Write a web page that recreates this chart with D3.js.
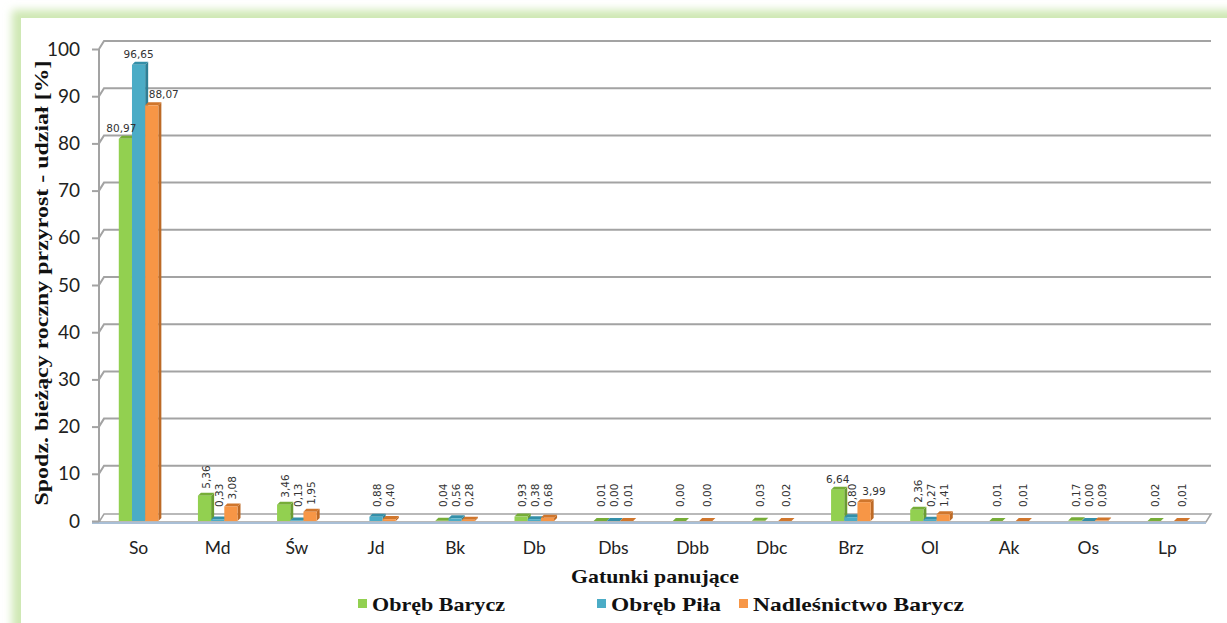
<!DOCTYPE html>
<html><head><meta charset="utf-8">
<script src="https://cdn.jsdelivr.net/npm/d3@7"></script>
<style>
html,body{margin:0;padding:0;background:#fff;}
svg{display:block;}
</style></head>
<body>
<svg id="chart" width="1227" height="623"></svg>
<script>
const categories = ["So","Md","Św","Jd","Bk","Db","Dbs","Dbb","Dbc","Brz","Ol","Ak","Os","Lp"];
const seriesNames = ["Obręb Barycz","Obręb Piła","Nadleśnictwo Barycz"];
const obrebBarycz = [80.97,5.36,3.46,null,0.04,0.93,0.01,0.00,0.03,6.64,2.36,0.01,0.17,0.02];
const obrebPila = [96.65,0.33,0.13,0.88,0.56,0.38,0.00,null,null,0.80,0.27,null,0.00,null];
const nadlesnictwo = [88.07,3.08,1.95,0.40,0.28,0.68,0.01,0.00,0.02,3.99,1.41,0.01,0.09,0.01];
const yTicks = [0,10,20,30,40,50,60,70,80,90,100];
const yTitle = "Spodz. bieżący roczny przyrost - udział [%]";
const xTitle = "Gatunki panujące";
// labels drawn horizontally (category|series index); others are rotated
const horizontalLabels = ["So|0","So|1","So|2","Brz|0","Brz|2"];

const seriesValues = [obrebBarycz, obrebPila, nadlesnictwo];
const colors = [
  {front:"#92d050", top:"#76ad38", side:"#6a9c32"},
  {front:"#4bacc6", top:"#348fa8", side:"#2f7f95"},
  {front:"#f79646", top:"#d0762c", side:"#bd6a26"}
];

const svg = d3.select("#chart");
const defs = svg.append("defs");
const blur = defs.append("filter").attr("id","glow").attr("x","-10%").attr("y","-10%").attr("width","120%").attr("height","120%");
blur.append("feGaussianBlur").attr("stdDeviation",4);

// chart area with green glow
svg.append("rect").attr("x",12).attr("y",10).attr("width",1260).attr("height",700)
  .attr("fill","#cfe8b4").attr("filter","url(#glow)");
svg.append("rect").attr("x",21).attr("y",18).attr("width",1260).attr("height",700).attr("fill","#fff");

const font = "Lato, 'Open Sans', sans-serif";
const serif = "'Liberation Serif', 'DejaVu Serif', serif";

const x0 = d3.scaleBand().domain(categories).range([99,1207]);
const xs = d3.scaleBand().domain(d3.range(3)).range([x0.bandwidth()*0.25, x0.bandwidth()*0.75]);
const y = d3.scaleLinear().domain([0,100]).range([521,49]);
const DX = 5, DY = -8; // wall depth offset
const axisX = 99;
const gridColor = "#a3a3a3";

const g = svg.append("g");

// floor
const y0 = y(0) + 1;
g.append("path")
  .attr("d", `M${axisX},${y0} L${1206},${y0} L${1206+DX},${y0+DY} L${axisX+DX},${y0+DY} Z`)
  .attr("fill","#fff").attr("stroke",gridColor).attr("stroke-width",1.5);

// gridlines on back wall
g.selectAll(".grid").data(yTicks.filter(d=>d>0)).join("path")
  .attr("d", d => `M${axisX},${y(d)} L${axisX+DX},${y(d)+DY} L${1211},${y(d)+DY}`)
  .attr("fill","none").attr("stroke",gridColor).attr("stroke-width",2);

// vertical axis line
g.append("line").attr("x1",axisX).attr("x2",axisX).attr("y1",y(100)).attr("y2",y0)
  .attr("stroke",gridColor).attr("stroke-width",2);

// front floor edge
g.append("line").attr("x1",92).attr("x2",1206).attr("y1",y0+1).attr("y2",y0+1)
  .attr("stroke","#a9bfd6").attr("stroke-width",2);

// y axis ticks & labels
const yAxis = d3.axisLeft(y).tickValues(yTicks).tickSize(7).tickPadding(12).tickFormat(d3.format("d"));
const ya = svg.append("g").attr("transform",`translate(${axisX},0)`).call(yAxis);
ya.select(".domain").remove();
ya.selectAll(".tick line").attr("stroke",gridColor).attr("stroke-width",2);
ya.selectAll(".tick text").attr("font-family",font).attr("font-size",19).attr("fill","#222");

// x axis labels
const xAxis = d3.axisBottom(x0).tickSize(0).tickPadding(20);
const xa = svg.append("g").attr("transform",`translate(0,${y0})`).call(xAxis);
xa.select(".domain").remove();
xa.selectAll(".tick text").attr("font-family",font).attr("font-size",17.5).attr("fill","#222");

// bars
const d = 3;
const bars = [];
categories.forEach((c,ci) => {
  seriesValues.forEach((arr,si) => {
    const v = arr[ci];
    if (v === null) return;
    bars.push({c, ci, si, v});
  });
});
const bw = xs.bandwidth();
const barG = svg.append("g");
bars.forEach(b => {
  const x = x0(b.c) + xs(b.si);
  const yt = y(b.v);
  const yb = y(0);
  const col = colors[b.si];
  barG.append("path")
    .attr("d",`M${x+bw},${yt} L${x+bw+d},${yt-d} L${x+bw+d},${yb-d} L${x+bw},${yb} Z`)
    .attr("fill",col.side);
  barG.append("path")
    .attr("d",`M${x},${yt} L${x+d},${yt-d} L${x+bw+d},${yt-d} L${x+bw},${yt} Z`)
    .attr("fill",col.top);
  barG.append("rect").attr("x",x).attr("y",yt).attr("width",bw).attr("height",Math.max(0,yb-yt))
    .attr("fill",col.front);
});

// value labels
const fmt = v => d3.format(".2f")(v).replace(".",",");
const hOffset = [-4, 0, 12];
const labG = svg.append("g").attr("font-family","'DejaVu Sans', sans-serif").attr("font-size",10.5).attr("fill","#333");
bars.forEach(b => {
  const cx = x0(b.c) + xs(b.si) + bw/2;
  const yt = y(b.v);
  if (horizontalLabels.includes(b.c+"|"+b.si)) {
    labG.append("text").attr("x",cx + (b.c==="So" ? hOffset[b.si] : (b.si===2?10:0)))
      .attr("y",yt-7).attr("text-anchor","middle").text(fmt(b.v));
  } else {
    const bottom = Math.min(yt-7, 507);
    labG.append("text").attr("transform",`translate(${cx+1},${bottom}) rotate(-90)`)
      .attr("text-anchor","start").attr("dominant-baseline","central").text(fmt(b.v));
  }
});

// axis titles
svg.append("text").attr("transform","translate(41,283) rotate(-90)")
  .attr("text-anchor","middle").attr("dominant-baseline","central")
  .attr("font-family",serif).attr("font-weight","bold").attr("font-size",19).attr("fill","#111")
  .attr("textLength",445).attr("lengthAdjust","spacingAndGlyphs").text(yTitle);
svg.append("text").attr("x",655).attr("y",583).attr("text-anchor","middle")
  .attr("font-family",serif).attr("font-weight","bold").attr("font-size",19).attr("fill","#111")
  .attr("textLength",168).attr("lengthAdjust","spacingAndGlyphs").text(xTitle);

// legend
const legendX = [358, 597, 739];
const legendLen = [133, 110, 211];
const lg = svg.append("g");
seriesNames.forEach((n,i) => {
  lg.append("rect").attr("x",legendX[i]).attr("y",599).attr("width",9).attr("height",9).attr("fill",colors[i].front);
  lg.append("text").attr("x",legendX[i]+14).attr("y",611)
    .attr("font-family",serif).attr("font-weight","bold").attr("font-size",19).attr("fill","#111")
    .attr("textLength",legendLen[i]).attr("lengthAdjust","spacingAndGlyphs").text(n);
});
</script>
</body></html>
